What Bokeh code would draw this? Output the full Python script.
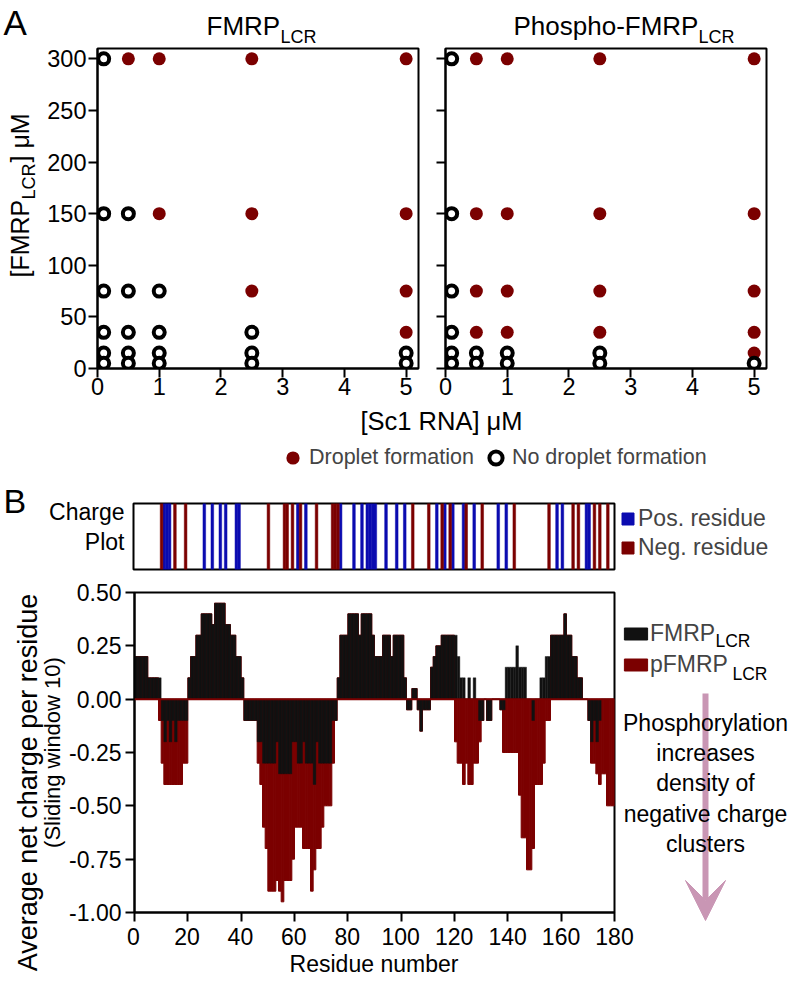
from bokeh.plotting import figure
from bokeh.models import (Label, Legend, LegendItem, FixedTicker, NumeralTickFormatter,
                          Range1d, Arrow, VeeHead, Span)
from bokeh.layouts import column, row
from bokeh.embed import file_html
from bokeh.resources import INLINE

FONT = "Liberation Sans"
RED = "#7b0000"
BLUE = "#0b0bb0"
INK = "#111111"
PINK = "#c996b4"
PI2 = 1.5707963

# ---------------- Panel A data ----------------
rna_conc = [0.1, 0.5, 1, 2.5, 5]
fmrp_conc = [300, 150, 75, 35, 15, 5]
# 1 = droplet formation, 0 = no droplet formation (rows follow fmrp_conc, cols follow rna_conc)
droplets_fmrp = [
    [0, 1, 1, 1, 1],
    [0, 0, 1, 1, 1],
    [0, 0, 0, 1, 1],
    [0, 0, 0, 0, 1],
    [0, 0, 0, 0, 0],
    [0, 0, 0, 0, 0],
]
droplets_pfmrp = [
    [0, 1, 1, 1, 1],
    [0, 1, 1, 1, 1],
    [0, 1, 1, 1, 1],
    [0, 1, 1, 1, 1],
    [0, 0, 0, 0, 1],
    [0, 0, 0, 0, 0],
]
x_ticks_a = [0, 1, 2, 3, 4, 5]
y_ticks_a = [0, 50, 100, 150, 200, 250, 300]

# ---------------- Panel B data ----------------
residues = list(range(1, 181))
charge_fmrp = [
    0.2, 0.2, 0.2, 0.2, 0.2, 0.1, 0.1, 0.1, 0.1, 0.1,
    -0.1, -0.2, -0.1, -0.2, -0.1, -0.2, -0.1, -0.1, -0.1, -0.1,
    0.1, 0.2, 0.2, 0.3, 0.3, 0.4, 0.4, 0.4, 0.4, 0.35,
    0.45, 0.45, 0.45, 0.45, 0.35, 0.35, 0.3, 0.3, 0.2, 0.2,
    0.1, -0.1, -0.1, -0.1, -0.1, -0.1, -0.2, -0.2, -0.3, -0.3,
    -0.3, -0.3, -0.3, -0.2, -0.35, -0.35, -0.35, -0.35, -0.35, -0.2,
    -0.2, -0.3, -0.3, -0.2, -0.3, -0.3, -0.3, -0.4, -0.2, -0.3,
    -0.3, -0.3, -0.3, -0.3, -0.1, -0.1, 0.1, 0.3, 0.3, 0.3,
    0.4, 0.4, 0.4, 0.4, 0.3, 0.4, 0.4, 0.4, 0.4, 0.3,
    0.2, 0.2, 0.2, 0.3, 0.3, 0.3, 0.2, 0.3, 0.3, 0.3,
    0.3, 0.1, -0.05, -0.05, 0.05, 0.05, -0.05, -0.15, -0.05, -0.05,
    -0.05, 0.15, 0.2, 0.25, 0.25, 0.3, 0.3, 0.3, 0.3, 0.3,
    0.3, 0.2, 0.1, 0.1, 0.0, 0.1, 0.0, 0.1, 0.0, -0.1,
    -0.1, 0.0, -0.1, -0.1, 0.0, 0.0, 0.0, -0.05, -0.05, 0.15,
    0.15, 0.15, 0.15, 0.25, 0.15, 0.15, 0.15, 0.0, 0.0, -0.1,
    0.0, 0.0, 0.1, 0.1, 0.2, 0.2, 0.3, 0.3, 0.3, 0.3,
    0.3, 0.4, 0.3, 0.3, 0.2, 0.2, 0.1, 0.1, 0.0, 0.0,
    -0.1, -0.2, -0.1, -0.2, -0.1, 0.0, 0.0, 0.0, 0.0, 0.0,
]
charge_pfmrp = [
    0.2, 0.2, 0.2, 0.2, 0.2, 0.1, 0.1, 0.1, 0.1, -0.1,
    -0.3, -0.4, -0.4, -0.4, -0.4, -0.4, -0.4, -0.4, -0.3, -0.3,
    0.1, 0.2, 0.2, 0.3, 0.3, 0.4, 0.4, 0.4, 0.4, 0.35,
    0.45, 0.45, 0.45, 0.45, 0.35, 0.35, 0.3, 0.3, 0.2, 0.2,
    0.1, -0.1, -0.1, -0.1, -0.1, -0.1, -0.3, -0.4, -0.6, -0.7,
    -0.9, -0.9, -0.9, -0.85, -0.9, -0.95, -0.85, -0.85, -0.85, -0.75,
    -0.6, -0.6, -0.6, -0.7, -0.7, -0.7, -0.9, -0.8, -0.7, -0.7,
    -0.6, -0.5, -0.5, -0.5, -0.3, -0.1, 0.1, 0.3, 0.3, 0.3,
    0.4, 0.4, 0.4, 0.4, 0.3, 0.4, 0.4, 0.4, 0.4, 0.3,
    0.2, 0.2, 0.2, 0.3, 0.3, 0.3, 0.2, 0.3, 0.3, 0.3,
    0.3, 0.1, -0.05, -0.05, 0.05, 0.05, -0.05, -0.15, -0.05, -0.05,
    -0.05, 0.15, 0.2, 0.25, 0.25, 0.3, 0.3, 0.3, 0.3, 0.3,
    -0.2, -0.3, -0.3, -0.4, -0.3, -0.4, -0.4, -0.3, -0.3, -0.2,
    -0.1, 0.0, -0.1, -0.1, 0.0, 0.0, 0.0, -0.05, -0.25, -0.25,
    -0.25, -0.25, -0.25, -0.25, -0.45, -0.65, -0.65, -0.8, -0.8, -0.7,
    -0.4, -0.4, -0.4, -0.3, -0.1, -0.1, 0.3, 0.3, 0.3, 0.3,
    0.3, 0.4, 0.3, 0.3, 0.2, 0.2, 0.1, 0.1, 0.0, 0.0,
    -0.1, -0.3, -0.3, -0.35, -0.4, -0.35, -0.35, -0.5, -0.5, -0.5,
]
pos_residues = [12, 13, 14, 27, 30, 33, 35, 39, 40, 62, 65, 78, 83, 86, 88, 89, 90, 91,
                95, 99, 102, 114, 117, 120, 124, 128, 137, 140, 159, 161, 170, 171]
neg_residues = [11, 16, 20, 51, 57, 58, 60, 63, 69, 75, 76, 77, 105, 111, 116, 119, 125,
                131, 143, 156, 165, 167, 173, 175, 178]
x_ticks_b = list(range(0, 181, 20))
y_ticks_b = [-1.0, -0.75, -0.5, -0.25, 0.0, 0.25, 0.5]


def txt(p, x, base, text, fs, align="left", angle=0):
    """Place text so that its alphabetic baseline lies at `base` (screen units)."""
    shift = 0.36 * fs
    if angle:
        xx, yy = base - shift, x
    else:
        xx, yy = x, base + shift
    p.add_layout(Label(x=xx, y=yy, x_units="screen", y_units="screen", text=text,
                       text_font=FONT, text_font_size=f"{fs}px", text_align=align,
                       text_baseline="alphabetic", angle=angle, text_color="black"))


def blank(width, height, xr=(0, 1), yr=(0, 1)):
    p = figure(width=width, height=height, x_range=Range1d(*xr), y_range=Range1d(*yr),
               output_backend="svg", toolbar_location=None, x_axis_location=None,
               y_axis_location=None, min_border=0, frame_align=False)
    p.outline_line_color = None
    p.xgrid.visible = False
    p.ygrid.visible = False
    p.background_fill_color = "white"
    p.border_fill_color = "white"
    return p


def style(p, fs="23.5px"):
    p.xgrid.visible = False
    p.ygrid.visible = False
    p.outline_line_color = "black"
    p.outline_line_width = 2
    p.background_fill_color = "white"
    p.border_fill_color = "white"
    for ax in p.axis:
        ax.axis_line_width = 2
        ax.axis_line_color = "black"
        ax.major_tick_line_width = 2
        ax.major_tick_line_color = "black"
        ax.major_tick_out = 9
        ax.major_tick_in = 0
        ax.minor_tick_line_color = None
        ax.major_label_text_font = FONT
        ax.major_label_text_font_size = fs
        ax.major_label_text_color = "black"


def split_points(matrix):
    xo, yo, xf, yf = [], [], [], []
    for yv, flags in zip(fmrp_conc, matrix):
        for xv, flag in zip(rna_conc, flags):
            if flag:
                xo.append(xv); yo.append(yv)
            else:
                xf.append(xv); yf.append(yv)
    return xo, yo, xf, yf


def phase_plot(matrix, width, left, right, labels):
    p = figure(width=width, height=359, x_range=Range1d(0, 5.2), y_range=Range1d(0, 310),
               output_backend="svg", toolbar_location=None, min_border_left=left,
               min_border_right=right, min_border_top=1, min_border_bottom=38,
               frame_align=False)
    style(p)
    p.xaxis.ticker = FixedTicker(ticks=x_ticks_a)
    p.yaxis.ticker = FixedTicker(ticks=y_ticks_a)
    p.xaxis.major_label_standoff = 0
    if labels:
        p.yaxis.major_label_standoff = 2
    else:
        p.yaxis.major_label_standoff = 0
        p.yaxis.major_label_overrides = {v: "" for v in y_ticks_a}
    xo, yo, xf, yf = split_points(matrix)
    p.scatter(xo, yo, marker="circle", size=13, fill_color=RED, line_color=None)
    p.scatter(xf, yf, marker="circle", size=11, fill_color="white", line_color="black",
              line_width=4)
    return p


# ---- Row 1 (y 0..47): panel letter and titles
title_a = blank(796, 47)
txt(title_a, 3, 12, "A", 35)
txt(title_a, 206, 12, "FMRP", 26)
txt(title_a, 280, 4, "LCR", 18)
txt(title_a, 513, 12, "Phospho-FMRP", 26)
txt(title_a, 698, 4, "LCR", 18)

# ---- Row 2 (y 47..406): y label + two phase plots
ylab_a = blank(40, 359)
# rotated pieces: (position along the axis, baseline x)
txt(ylab_a, 129, 28, "[FMRP", 25, angle=PI2)
txt(ylab_a, 207, 35, "LCR", 18, angle=PI2)
txt(ylab_a, 244, 28, "] \u03bcM", 25, angle=PI2)
a1 = phase_plot(droplets_fmrp, 392, 57, 14, True)
a2 = phase_plot(droplets_pfmrp, 364, 13, 30, False)

# ---- Row 3 (y 406..480): x title + legend for panel A
leg_a_fig = blank(796, 74)
txt(leg_a_fig, 441, 50, "[Sc1 RNA] \u03bcM", 25.5, align="center")
xo, yo, xf, yf = split_points(droplets_fmrp)
r_drop = leg_a_fig.scatter(xo, yo, marker="circle", size=13, fill_color=RED,
                           line_color=None, visible=False)
r_none = leg_a_fig.scatter(xf, yf, marker="circle", size=11, fill_color="white",
                           line_color="black", line_width=4, visible=False)
leg_a = Legend(items=[LegendItem(label="Droplet formation", renderers=[r_drop]),
                      LegendItem(label="No droplet formation", renderers=[r_none])],
               orientation="horizontal", location=(276, 6), glyph_width=33, glyph_height=33,
               label_standoff=0, spacing=5, padding=0, margin=0, border_line_color=None,
               background_fill_alpha=0, label_text_font=FONT, label_text_font_size="21.5px")
leg_a_fig.add_layout(leg_a)

# ---- Row 4 (y 480..575): charge strip
left_s = blank(131, 95)
txt(left_s, 3, 62, "B", 34)
txt(left_s, 124, 55, "Charge", 23, align="right")
txt(left_s, 124, 25, "Plot", 23, align="right")

strip = figure(width=485, height=95, x_range=Range1d(0, 180), y_range=Range1d(0, 1),
               output_backend="svg", toolbar_location=None, x_axis_location=None,
               y_axis_location=None, min_border_left=2, min_border_right=2,
               min_border_top=23, min_border_bottom=6, frame_align=False)
strip.xgrid.visible = False
strip.ygrid.visible = False
strip.outline_line_color = "black"
strip.outline_line_width = 2
strip.vbar(x=[r - 0.5 for r in pos_residues], width=1, top=1, bottom=0,
           fill_color=BLUE, line_color=BLUE, line_width=0.5)
strip.vbar(x=[r - 0.5 for r in neg_residues], width=1, top=1, bottom=0,
           fill_color=RED, line_color=RED, line_width=0.5)

right_s = blank(180, 95, (0, 180), (0, 1))
lp = right_s.vbar(x=[r - 0.5 for r in pos_residues], width=1, top=1, bottom=0,
                  fill_color=BLUE, line_color=BLUE, visible=False)
ln = right_s.vbar(x=[r - 0.5 for r in neg_residues], width=1, top=1, bottom=0,
                  fill_color=RED, line_color=RED, visible=False)
leg_s = Legend(items=[LegendItem(label="Pos. residue", renderers=[lp]),
                      LegendItem(label="Neg. residue", renderers=[ln])],
               location=(4, 14), glyph_width=15, glyph_height=15, label_standoff=3,
               spacing=2, padding=0, margin=0, border_line_color=None,
               background_fill_alpha=0, label_text_font=FONT, label_text_font_size="23px")
right_s.add_layout(leg_s)

# ---- Row 5 (y 575..987): net charge bars
left_b = blank(66, 412)
txt(left_b, 205, 37, "Average net charge per residue", 27, align="center", angle=PI2)
txt(left_b, 235, 60, "(Sliding window 10)", 22, align="center", angle=PI2)

fb = figure(width=550, height=350, x_range=Range1d(0, 180), y_range=Range1d(-1.0, 0.5),
            output_backend="svg", toolbar_location=None, min_border_left=67,
            min_border_right=2, min_border_top=17, min_border_bottom=13, frame_align=False)
style(fb, "23px")
fb.xaxis.ticker = FixedTicker(ticks=x_ticks_b)
fb.xaxis.major_label_overrides = {t: "" for t in x_ticks_b}
fb.xaxis.major_label_standoff = 0
fb.yaxis.ticker = FixedTicker(ticks=y_ticks_b)
fb.yaxis.formatter = NumeralTickFormatter(format="0.00")
fb.yaxis.major_label_standoff = 4
xc = [r - 0.5 for r in residues]
fb.vbar(x=xc, width=1, top=charge_pfmrp, bottom=0, fill_color=RED, line_color=RED,
        line_width=1)
fb.vbar(x=xc, width=1, top=charge_fmrp, bottom=0, fill_color=INK, line_color=INK,
        line_width=0.4)
fb.add_layout(Span(location=0, dimension="width", line_color=RED, line_width=2))

right_b = blank(180, 350, (0, 180), (-1.0, 0.5))
rf = right_b.vbar(x=xc, width=1, top=charge_fmrp, bottom=0, fill_color=INK,
                  line_color=INK, visible=False)
rp = right_b.vbar(x=xc, width=1, top=charge_pfmrp, bottom=0, fill_color=RED,
                  line_color=RED, visible=False)
leg_b = Legend(items=[LegendItem(label="FMRP", renderers=[rf]),
                      LegendItem(label="pFMRP", renderers=[rp])],
               location=(5, 247), glyph_width=29, glyph_height=15, label_standoff=0,
               spacing=4, padding=0, margin=0, border_line_color=None,
               background_fill_alpha=0, label_text_font=FONT, label_text_font_size="23px")
right_b.add_layout(leg_b)
txt(right_b, 99, 278, "LCR", 17.5)
txt(right_b, 116, 245, "LCR", 17.5)
right_b.add_layout(Arrow(x_start=89, y_start=232, x_end=89, y_end=5, start_units="screen",
                         end_units="screen", line_color=PINK, line_width=6,
                         end=VeeHead(size=40, fill_color=PINK, line_color=PINK)))
for yy, t in zip([194, 164, 134, 103, 73],
                 ["Phosphorylation", "increases", "density of", "negative charge", "clusters"]):
    txt(right_b, 89, yy, t, 23, align="center")

fx = figure(width=730, height=62, x_range=fb.x_range, y_range=Range1d(0, 1),
            output_backend="svg", toolbar_location=None, y_axis_location=None,
            min_border_left=67, min_border_right=182, min_border_top=0,
            min_border_bottom=61, frame_align=False)
fx.outline_line_color = None
fx.xgrid.visible = False
fx.ygrid.visible = False
fx.xaxis.ticker = FixedTicker(ticks=x_ticks_b)
fx.xaxis.axis_line_color = None
fx.xaxis.major_tick_line_color = None
fx.xaxis.minor_tick_line_color = None
fx.xaxis.major_tick_out = 0
fx.xaxis.major_tick_in = 0
fx.xaxis.major_label_standoff = 1
fx.xaxis.major_label_text_font = FONT
fx.xaxis.major_label_text_font_size = "23px"
fx.xaxis.major_label_text_color = "black"
fx.xaxis.axis_label = "Residue number"
fx.xaxis.axis_label_text_font = FONT
fx.xaxis.axis_label_text_font_size = "23px"
fx.xaxis.axis_label_text_font_style = "normal"
fx.xaxis.axis_label_text_color = "black"
fx.xaxis.axis_label_standoff = 3

layout = column(
    title_a,
    row(ylab_a, a1, a2, spacing=0),
    leg_a_fig,
    row(left_s, strip, right_s, spacing=0),
    row(left_b, column(row(fb, right_b, spacing=0), fx, spacing=0), spacing=0),
    spacing=0,
)
open("out.html", "w").write(file_html(layout, INLINE))
